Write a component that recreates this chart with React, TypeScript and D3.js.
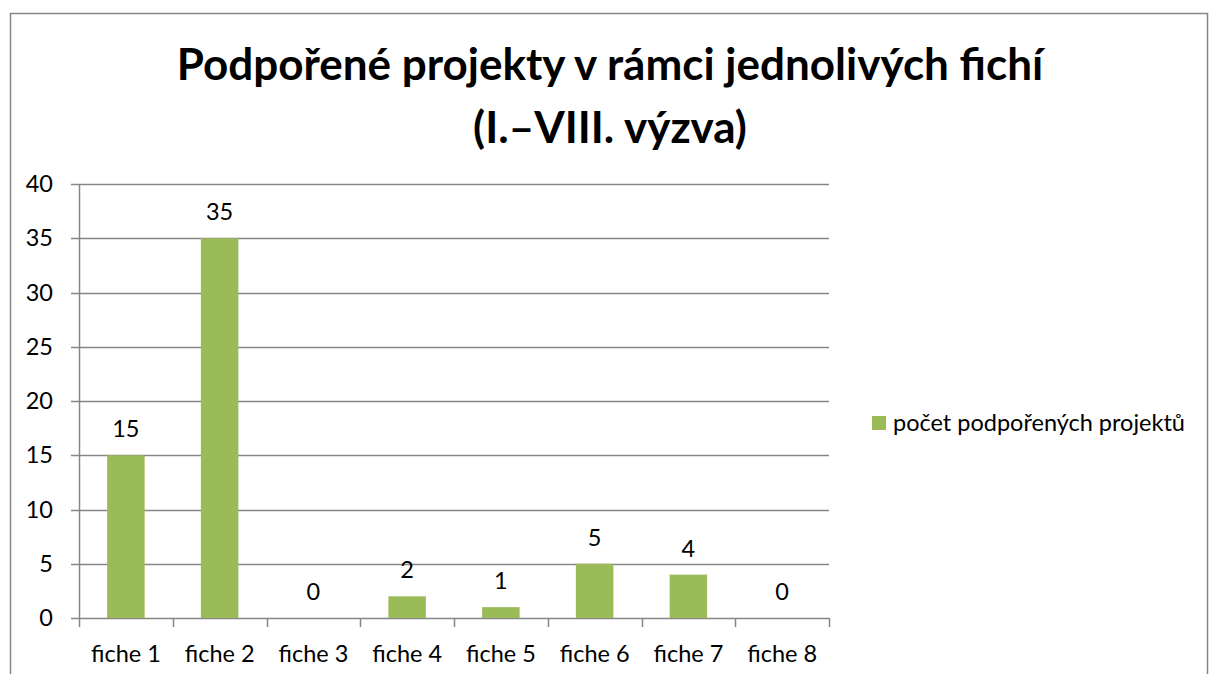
import React, { useEffect, useRef } from 'react';
import * as d3 from 'd3';

const categories = ['fiche 1', 'fiche 2', 'fiche 3', 'fiche 4', 'fiche 5', 'fiche 6', 'fiche 7', 'fiche 8'];
const values = [15, 35, 0, 2, 1, 5, 4, 0];
const yTicks = [0, 5, 10, 15, 20, 25, 30, 35, 40];
const seriesName = 'počet podpořených projektů';
const titleLines = ['Podpořené projekty v rámci jednolivých fichí', '(I.–VIII. výzva)'];

const W = 1218;
const H = 674;
const FONT = 'Lato, "Open Sans", sans-serif';
const GRAY = '#868686';
const GREEN = '#9BBB59';
const SMALL = '23.5px';

const App: React.FC = () => {
  const ref = useRef<SVGSVGElement | null>(null);

  useEffect(() => {
    const svg = d3.select(ref.current);
    svg.selectAll('*').remove();

    const plot = { left: 79, right: 829, top: 184, bottom: 618 };

    // chart frame
    svg.append('rect')
      .attr('x', 10.5).attr('y', 13.5)
      .attr('width', 1197).attr('height', 720)
      .attr('fill', 'white')
      .attr('stroke', GRAY).attr('stroke-width', 1.5);

    // title
    svg.append('text')
      .attr('x', 610).attr('y', 80)
      .attr('text-anchor', 'middle')
      .style('font-family', FONT).style('font-weight', 'bold').style('font-size', '44px')
      .text(titleLines[0]);
    svg.append('text')
      .attr('x', 610).attr('y', 143)
      .attr('text-anchor', 'middle')
      .style('font-family', FONT).style('font-weight', 'bold').style('font-size', '44px')
      .text(titleLines[1]);

    const x = d3.scaleBand().domain(categories).range([plot.left, plot.right]).paddingInner(0).paddingOuter(0);
    const y = d3.scaleLinear().domain([0, 40]).range([plot.bottom, plot.top]);
    const barW = x.bandwidth() / 2.5;

    // gridlines
    svg.append('g').selectAll('line')
      .data(yTicks)
      .enter()
      .append('line')
      .attr('x1', plot.left - 8).attr('x2', plot.right)
      .attr('y1', (d) => Math.round(y(d)) + 0.5).attr('y2', (d) => Math.round(y(d)) + 0.5)
      .attr('stroke', GRAY).attr('stroke-width', 1.5);

    // y labels
    svg.append('g').selectAll('text')
      .data(yTicks)
      .enter()
      .append('text')
      .attr('x', 53).attr('y', (d) => y(d) + 8)
      .attr('text-anchor', 'end')
      .style('font-family', FONT).style('font-size', SMALL).style('fill', '#000')
      .text((d) => d);

    // y axis line
    svg.append('line')
      .attr('x1', plot.left + 0.5).attr('x2', plot.left + 0.5)
      .attr('y1', plot.top).attr('y2', plot.bottom + 9)
      .attr('stroke', GRAY).attr('stroke-width', 1.5);

    // x category ticks
    const tickXs = categories.map((c) => x(c) + x.bandwidth());
    svg.append('g').selectAll('line')
      .data(tickXs)
      .enter()
      .append('line')
      .attr('x1', (d) => Math.round(d) + 0.5).attr('x2', (d) => Math.round(d) + 0.5)
      .attr('y1', plot.bottom).attr('y2', plot.bottom + 9)
      .attr('stroke', GRAY).attr('stroke-width', 1.5);

    // bars
    svg.append('g').selectAll('rect')
      .data(values)
      .enter()
      .append('rect')
      .attr('x', (d, i) => x(categories[i]) + x.bandwidth() / 2 - barW / 2)
      .attr('width', barW)
      .attr('y', (d) => y(d))
      .attr('height', (d) => plot.bottom - y(d))
      .attr('fill', GREEN);

    // data labels
    svg.append('g').selectAll('text')
      .data(values)
      .enter()
      .append('text')
      .attr('x', (d, i) => x(categories[i]) + x.bandwidth() / 2)
      .attr('y', (d) => y(d) - 18)
      .attr('text-anchor', 'middle')
      .style('font-family', FONT).style('font-size', SMALL).style('fill', '#000')
      .text((d) => d);

    // category labels
    svg.append('g').selectAll('text')
      .data(categories)
      .enter()
      .append('text')
      .attr('x', (d) => x(d) + x.bandwidth() / 2)
      .attr('y', 662)
      .attr('text-anchor', 'middle')
      .style('font-family', FONT).style('font-size', SMALL).style('fill', '#000')
      .text((d) => d);

    // legend
    svg.append('rect')
      .attr('x', 872).attr('y', 416)
      .attr('width', 14).attr('height', 14)
      .attr('fill', GREEN);
    svg.append('text')
      .attr('x', 893).attr('y', 431)
      .style('font-family', FONT).style('font-size', SMALL).style('fill', '#000')
      .text(seriesName);
  }, []);

  return (
    <svg ref={ref} width={W} height={H} style={{ position: 'absolute', left: 0, top: 0, display: 'block' }} />
  );
};

export default App;
